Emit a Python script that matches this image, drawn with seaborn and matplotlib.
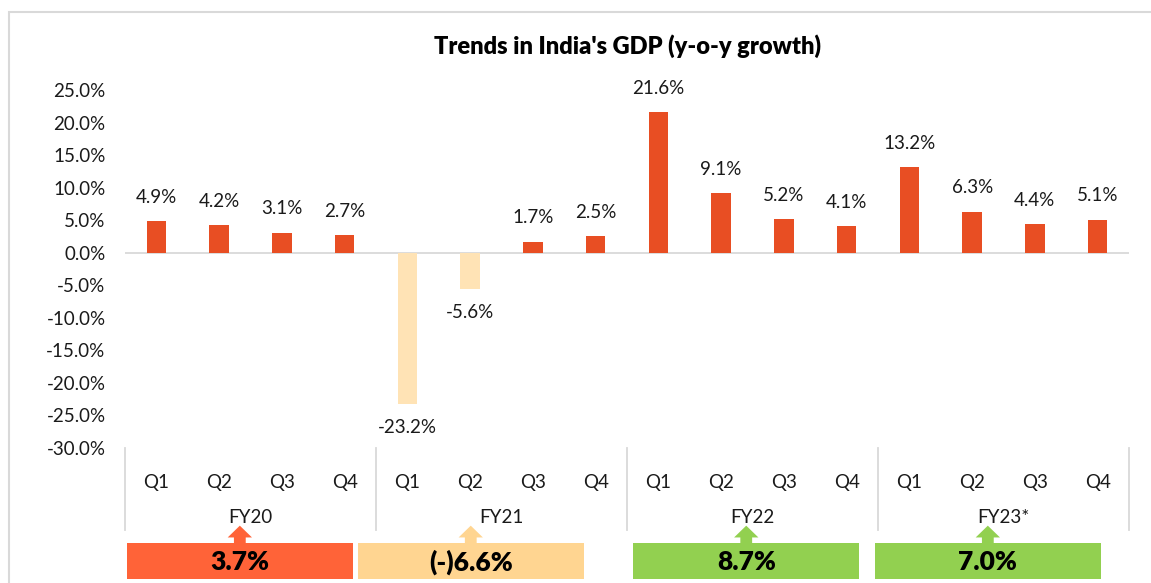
import matplotlib.pyplot as plt
import matplotlib.patches as mpatches
import matplotlib.transforms as mtransforms
import pandas as pd
import seaborn as sns

# quarterly y-o-y GDP growth, %
YEARS = ["FY20", "FY21", "FY22", "FY23*"]
QUARTERS = ["Q1", "Q2", "Q3", "Q4"]
GROWTH = [4.9, 4.2, 3.1, 2.7,
          -23.2, -5.6, 1.7, 2.5,
          21.6, 9.1, 5.2, 4.1,
          13.2, 6.3, 4.4, 5.1]
# bars drawn in the pale shade (covid quarters)
PALE_BARS = ["FY21 Q1", "FY21 Q2"]
# annual growth shown in the boxes under each year
ANNUAL_LABELS = ["3.7%", "(-)6.6%", "8.7%", "7.0%"]
ANNUAL_COLORS = ["#FF6338", "#FFD591", "#92D050", "#92D050"]

BAR_RED = "#E84E23"
BAR_PALE = "#FFE3B5"
# hand placed box shift from the year centre (in bar slots)
BOX_SHIFT = [-0.17, -0.49, -0.1, -0.25]

plt.rcParams["font.family"] = ["Lato", "DejaVu Sans"]

df = pd.DataFrame({
    "period": [f"{y} {q}" for y in YEARS for q in QUARTERS],
    "growth": GROWTH,
})
df["shade"] = ["pale" if p in PALE_BARS else "red" for p in df["period"]]

fig = plt.figure(figsize=(11.51, 5.83), dpi=100)
ax = fig.add_axes([0.1086, 0.2316, 0.8723, 0.614])

sns.barplot(data=df, x="period", y="growth", hue="shade",
            palette={"red": BAR_RED, "pale": BAR_PALE},
            dodge=False, width=0.31, legend=False, ax=ax,
            saturation=1, edgecolor="none")

for container in ax.containers:
    labels = [f"{v:.1f}%" for v in container.datavalues]
    ax.bar_label(container, labels=labels, padding=11, fontsize=13.5,
                 color="#1a1a1a")

ax.set_ylim(-30, 25)
ax.set_xlim(-0.5, len(GROWTH) - 0.5)
ax.set_yticks(range(-30, 26, 5))
ax.set_yticklabels([f"{t:.1f}%" for t in range(-30, 26, 5)])
ax.set_xticks(range(len(GROWTH)))
ax.set_xticklabels(QUARTERS * len(YEARS))
ax.tick_params(axis="both", length=0, labelsize=13.5, labelcolor="#1a1a1a")
ax.tick_params(axis="x", pad=19)
ax.tick_params(axis="y", pad=14)
ax.set_xlabel("")
ax.set_ylabel("")
for side in ax.spines.values():
    side.set_visible(False)
ax.axhline(0, color="#D9D9D9", lw=1.3, zorder=0)

ax.set_title("Trends in India's GDP (y-o-y growth)", fontsize=17,
             fontweight="heavy", pad=26)

# year labels, separators, arrows and annual boxes below the axis
trans = mtransforms.blended_transform_factory(ax.transData, ax.transAxes)
for i, year in enumerate(YEARS):
    left = i * 4 - 0.5
    centre = left + 2
    ax.text(centre, -0.1955, year, transform=trans, ha="center",
            va="center", fontsize=13.5, color="#1a1a1a")
    box_x = centre + BOX_SHIFT[i]
    ax.add_patch(mpatches.Rectangle((box_x - 1.8, -0.366), 3.6, 0.1,
                                    transform=trans, clip_on=False,
                                    facecolor=ANNUAL_COLORS[i],
                                    edgecolor="none"))
    ax.text(box_x, -0.318, ANNUAL_LABELS[i], transform=trans,
            ha="center", va="center", fontsize=19, fontweight="heavy",
            color="black")
    ax.annotate("", xy=(box_x, -0.217), xytext=(box_x, -0.266),
                xycoords=trans, textcoords=trans, annotation_clip=False,
                arrowprops=dict(arrowstyle="simple,head_width=1.75,"
                                "head_length=0.85,tail_width=0.85",
                                color=ANNUAL_COLORS[i], shrinkA=0,
                                shrinkB=0, lw=0))
for k in range(len(YEARS) + 1):
    ax.plot([k * 4 - 0.5] * 2, [0, -0.229], transform=trans,
            color="#D9D9D9", lw=1.3, clip_on=False)

# light frame around the chart
fig.patches.append(mpatches.Rectangle((9 / 1151, -0.05), 1.1, 1 - 12 / 583 + 0.05,
                                      transform=fig.transFigure,
                                      fill=False, edgecolor="#D9D9D9", lw=1.5))

fig.savefig("out.png", dpi=100)
